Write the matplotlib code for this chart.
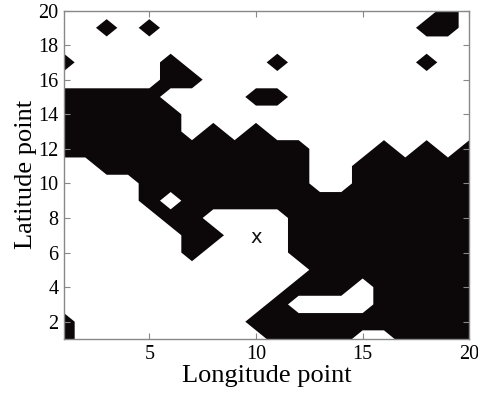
import numpy as np
import matplotlib
matplotlib.use("Agg")
import matplotlib.pyplot as plt

# grid points 1..20 in each direction
lon = np.arange(1, 21)
lat = np.arange(1, 21)

# binary mask, top row = latitude 20, bottom row = latitude 1
rows = [
    "00000000000000000010",
    "00101000000000000110",
    "00000000000000000000",
    "10000100001000000100",
    "00000110000000000000",
    "11111000011000000000",
    "11111100000000000000",
    "11111101010000000000",
    "11111111111100010101",
    "00111111111100111111",
    "00001111111100111111",
    "00001011111111111111",
    "00000110000111111111",
    "00000011000111111111",
    "00000010000111111111",
    "00000000000011111111",
    "00000000000111011111",
    "00000000001000011111",
    "10000000011111111111",
    "10000000001111001111",
]
mark_lon, mark_lat = 10, 7

Z = np.array([[int(c) for c in r] for r in rows][::-1], dtype=float)

plt.rcParams['font.family'] = ['Liberation Serif', 'DejaVu Serif']

fig = plt.figure(figsize=(4.78, 3.94), dpi=100)
ax = fig.add_axes([64/478, 1 - 339/394, (469.3 - 64)/478, (339 - 10.5)/394])

ax.contourf(lon, lat, Z, levels=[0.4999, 1.5], colors=['#0c0708'], antialiased=True)
ax.text(mark_lon, mark_lat, 'x', ha='center', va='center_baseline',
        fontsize=14, family='DejaVu Sans', color='#111111')

ax.set_xlim(1, 20)
ax.set_ylim(1, 20)
ax.set_xticks([5, 10, 15, 20])
ax.set_yticks(range(2, 21, 2))
ax.tick_params(direction='in', length=4, width=0.8, color='#888888',
               top=True, right=True, labelsize=14.5, pad=4)
for s in ax.spines.values():
    s.set_color('#888888')
    s.set_linewidth(1)

ax.set_xlabel('Longitude point', fontsize=19, labelpad=1)
ax.set_ylabel('Latitude point', fontsize=19, labelpad=1)

fig.savefig("out.png", dpi=100)
